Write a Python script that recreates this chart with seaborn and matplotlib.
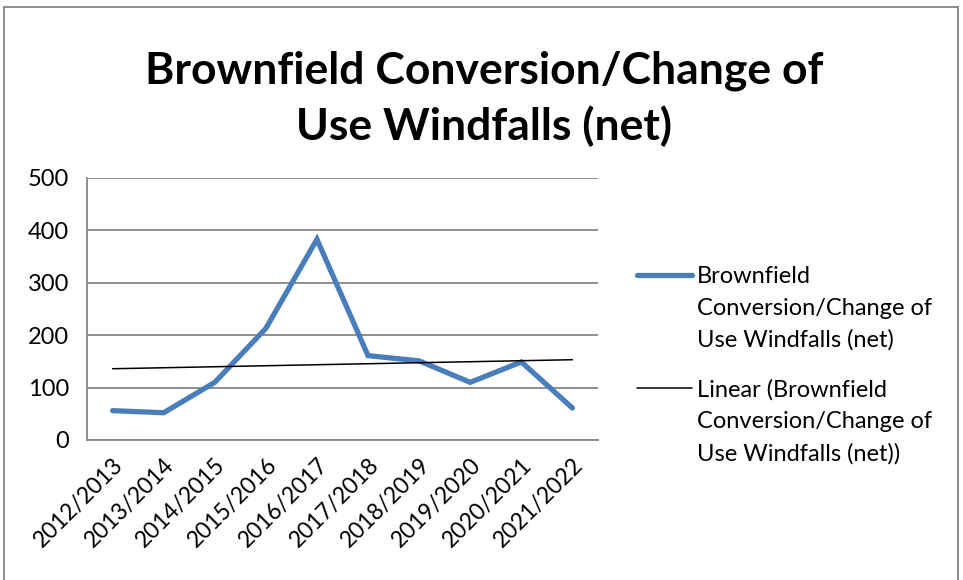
import matplotlib
matplotlib.use("Agg")
import matplotlib.pyplot as plt
import seaborn as sns
import pandas as pd
import numpy as np
from matplotlib.lines import Line2D
from matplotlib.patches import Rectangle

# dados
anos = ["2012/2013", "2013/2014", "2014/2015", "2015/2016", "2016/2017",
        "2017/2018", "2018/2019", "2019/2020", "2020/2021", "2021/2022"]
windfalls = [56, 52, 110, 213, 383, 161, 151, 110, 149, 61]

titulo = "Brownfield Conversion/Change of\nUse Windfalls (net)"
serie_label = "Brownfield\nConversion/Change of\nUse Windfalls (net)"
tend_label = "Linear (Brownfield\nConversion/Change of\nUse Windfalls (net))"

azul = "#4A7EBB"
cinza = "#868686"

df = pd.DataFrame({"x": np.arange(len(anos)), "valor": windfalls})
# tendência linear (como no Excel)
coef = np.polyfit(df["x"], df["valor"], 1)
df["tend"] = np.polyval(coef, df["x"])

sns.set_style("white")
plt.rcParams["font.family"] = ["Lato", "DejaVu Sans"]
plt.rcParams["text.color"] = "black"
plt.rcParams["xtick.labelcolor"] = "black"
plt.rcParams["ytick.labelcolor"] = "black"

W, H = 963, 580
fig = plt.figure(figsize=(W / 100, H / 100), dpi=100)
ax = fig.add_axes([87 / W, 1 - 440 / H, (598 - 87) / W, (440 - 178) / H])

sns.lineplot(data=df, x="x", y="valor", ax=ax, color=azul, linewidth=3.8,
             solid_capstyle="round", solid_joinstyle="miter", zorder=3)
sns.lineplot(data=df, x="x", y="tend", ax=ax, color="black", linewidth=1.1, zorder=4)

ax.set_xlim(-0.5, len(anos) - 0.5)
ax.set_ylim(0, 500)
ax.set_yticks(range(0, 501, 100))
ax.set_xticks(np.arange(-0.5, len(anos), 1.0))
ax.set_xticklabels([])
ax.set_xticks(np.arange(len(anos)), minor=True)
ax.set_xticklabels(anos, minor=True, rotation=45, ha="right", va="top",
                   rotation_mode="anchor", fontsize=16.5)
ax.tick_params(axis="x", which="minor", length=0, pad=10)
ax.tick_params(axis="x", which="major", length=7, width=1.3, color=cinza, direction="out")
ax.tick_params(axis="y", length=7, width=1.3, color=cinza, direction="out", labelsize=17, pad=6)
ax.set_xlabel("")
ax.set_ylabel("")
ax.yaxis.grid(True, color=cinza, linewidth=1.3)
for s in ["top", "right"]:
    ax.spines[s].set_visible(False)
for s in ["left", "bottom"]:
    ax.spines[s].set_color(cinza)
    ax.spines[s].set_linewidth(1.3)

fig.text(484 / W, 1 - 99 / H, titulo, ha="center", va="center", fontsize=32,
         fontweight="bold", linespacing=1.42)

# legenda feita à mão, como no Excel (linha alinhada à primeira linha do texto)
def item_legenda(y, texto, cor, lw):
    fig.add_artist(Line2D([637 / W, 692 / W], [1 - y / H, 1 - y / H],
                          color=cor, linewidth=lw, solid_capstyle="round"))
    fig.text(697 / W, 1 - (y - 9) / H, texto, ha="left", va="top",
             fontsize=17, linespacing=1.62)

item_legenda(275, serie_label, azul, 3.8)
item_legenda(388, tend_label, "black", 1.1)

# moldura da área do gráfico
fig.add_artist(Rectangle((4 / W, -0.05), (958 - 4) / W, 1 - 7 / H + 0.05,
                         transform=fig.transFigure, fill=False,
                         edgecolor=cinza, linewidth=1.3))

fig.savefig("out.png", dpi=100)
